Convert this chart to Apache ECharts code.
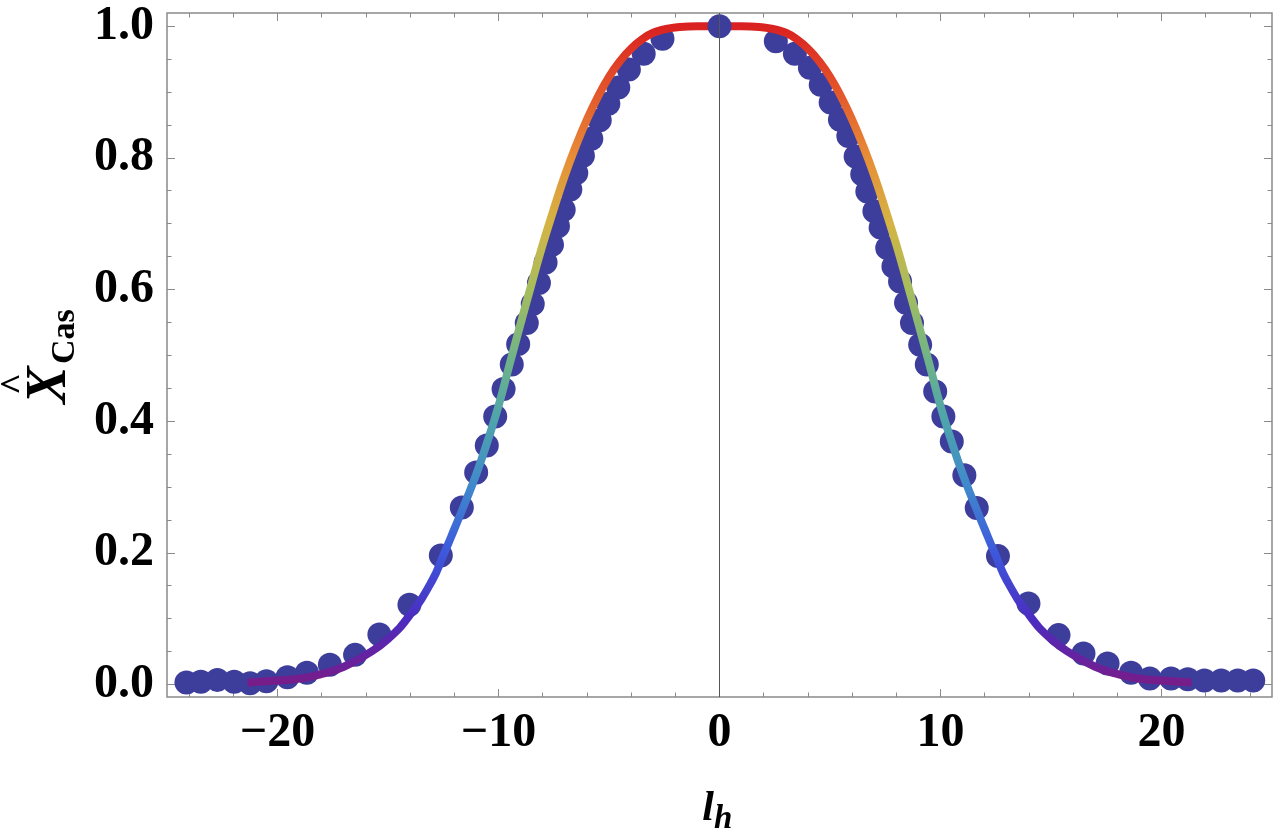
<!DOCTYPE html>
<html lang="en">
<head>
  <meta charset="utf-8"/>
  <title>X Cas vs l_h</title>
  <script src="https://cdn.jsdelivr.net/npm/echarts@6/dist/echarts.min.js"></script>
  <style>
    html, body { margin: 0; padding: 0; background: #fff; }
    #chart { width: 1275px; height: 838px; }
  </style>
</head>
<body>
<div id="chart"></div>
<script>
  // measured points (left wing, peak, right wing)
  var leftX = [-24.12, -23.47, -22.72, -21.96, -21.24, -20.50, -19.55, -18.67, -17.63, -16.49, -15.39, -14.03,
    -12.61, -11.66, -11.01, -10.53, -10.15, -9.77, -9.40, -9.11, -8.72, -8.45, -8.17, -7.87, -7.58, -7.31,
    -7.05, -6.75, -6.48, -6.18, -5.80, -5.42, -5.03, -4.58, -4.10, -3.43, -2.58];
  var leftY = [0.003, 0.004, 0.007, 0.004, 0.002, 0.005, 0.011, 0.018, 0.030, 0.045, 0.076, 0.121,
    0.196, 0.269, 0.322, 0.363, 0.407, 0.449, 0.486, 0.517, 0.549, 0.578, 0.610, 0.641, 0.668, 0.696,
    0.721, 0.752, 0.777, 0.803, 0.829, 0.857, 0.882, 0.907, 0.934, 0.958, 0.981];
  var peakX = [0];
  var peakY = [1.0];
  var rightX = [2.55, 3.41, 4.09, 4.58, 5.03, 5.45, 5.83, 6.16, 6.46, 6.69, 7.01, 7.29, 7.59, 7.87,
    8.17, 8.44, 8.71, 9.08, 9.38, 9.76, 10.13, 10.51, 11.08, 11.64, 12.60, 13.98, 15.34, 16.47, 17.56,
    18.62, 19.47, 20.43, 21.19, 21.94, 22.70, 23.45, 24.15];
  var rightY = [0.977, 0.958, 0.937, 0.911, 0.884, 0.858, 0.833, 0.802, 0.775, 0.749, 0.719, 0.694, 0.663, 0.635,
    0.612, 0.580, 0.549, 0.516, 0.486, 0.445, 0.407, 0.369, 0.318, 0.268, 0.195, 0.123, 0.075, 0.047, 0.032,
    0.018, 0.009, 0.009, 0.008, 0.006, 0.006, 0.006, 0.006];

  // fitted curve
  var fitX = [-21.36, -20, -19, -18, -17, -16, -15, -14, -13, -12.5, -12, -11.5, -11, -10.5, -10, -9.5, -9,
    -8.5, -8, -7.5, -7, -6.5, -6, -5.5, -5, -4.5, -4, -3.5, -3, -2.5, -2, -1, 0,
    1, 2, 2.5, 3, 3.5, 4, 4.5, 5, 5.5, 6, 6.5, 7, 7.5, 8, 8.5, 9, 9.5, 10, 10.5, 11, 11.5, 12, 12.5, 13,
    14, 15, 16, 17, 18, 19, 20, 21.36];
  var fitY = [0.003, 0.006, 0.009, 0.016, 0.027, 0.045, 0.069, 0.106, 0.158, 0.196, 0.236, 0.277, 0.320, 0.369,
    0.423, 0.486, 0.548, 0.609, 0.668, 0.722, 0.773, 0.818, 0.858, 0.893, 0.923, 0.947, 0.966, 0.980, 0.990,
    0.995, 0.998, 1.0, 1.0,
    1.0, 0.998, 0.995, 0.990, 0.980, 0.966, 0.947, 0.923, 0.893, 0.858, 0.818, 0.773, 0.722, 0.668, 0.609,
    0.548, 0.486, 0.423, 0.369, 0.320, 0.277, 0.236, 0.196, 0.158, 0.106, 0.069, 0.045, 0.027, 0.016, 0.009,
    0.006, 0.003];

  var xMajor = [-20, -10, 0, 10, 20];
  var xMinor = [-24, -22, -18, -16, -14, -12, -8, -6, -4, -2, 2, 4, 6, 8, 12, 14, 16, 18, 22, 24];
  var yMajor = [0, 0.2, 0.4, 0.6, 0.8, 1.0];
  var yMinor = [0.05, 0.1, 0.15, 0.25, 0.3, 0.35, 0.45, 0.5, 0.55, 0.65, 0.7, 0.75, 0.85, 0.9, 0.95];

  var rainbow = ['#781c88', '#4b2cc0', '#3d58dc', '#4088cc', '#4ea4ac', '#72b486',
    '#a6bd5e', '#d4b444', '#e78e37', '#e3572b', '#da2121'];

  function zip(xs, ys) {
    return xs.map(function (x, i) { return [x, ys[i]]; });
  }

  var font = 'Liberation Serif';
  var frameColor = '#8a8a8a';

  function xAxisDef(pos, ticks, len, labels) {
    return {
      type: 'value', min: -25, max: 25, position: pos,
      axisLine: { show: false, onZero: false },
      splitLine: { show: false },
      axisTick: { inside: true, length: len, customValues: ticks, lineStyle: { color: frameColor, width: 1 } },
      axisLabel: labels ? {
        customValues: ticks, margin: 13, color: '#000',
        fontFamily: font, fontWeight: 'bold', fontSize: 48,
        formatter: function (v) { return v < 0 ? '\u2212' + Math.abs(v) : String(v); }
      } : { show: false }
    };
  }

  function yAxisDef(pos, ticks, len, labels) {
    return {
      type: 'value', min: -0.019, max: 1.02, position: pos,
      axisLine: { show: false, onZero: false },
      splitLine: { show: false },
      axisTick: { inside: true, length: len, customValues: ticks, lineStyle: { color: frameColor, width: 1 } },
      axisLabel: labels ? {
        customValues: ticks, margin: 13, color: '#000',
        fontFamily: font, fontWeight: 'bold', fontSize: 48,
        formatter: function (v) { return v.toFixed(1); }
      } : { show: false }
    };
  }

  var chart = echarts.init(document.getElementById('chart'), null, { renderer: 'canvas' });

  var option = {
    backgroundColor: '#fff',
    animation: false,
    grid: {
      left: 167, top: 13, width: 1105, height: 684,
      show: true, borderColor: frameColor, borderWidth: 1.5, backgroundColor: 'transparent'
    },
    xAxis: [
      xAxisDef('bottom', xMajor, 8, true),
      xAxisDef('bottom', xMinor, 4.5, false),
      xAxisDef('top', xMajor, 8, false),
      xAxisDef('top', xMinor, 4.5, false)
    ],
    yAxis: [
      yAxisDef('left', yMajor, 8, true),
      yAxisDef('left', yMinor, 4.5, false),
      yAxisDef('right', yMajor, 8, false),
      yAxisDef('right', yMinor, 4.5, false)
    ],
    visualMap: {
      show: false, type: 'continuous', seriesIndex: 1, dimension: 1,
      min: 0, max: 1, inRange: { color: rainbow }
    },
    series: [
      {
        name: 'data', type: 'scatter', z: 2,
        data: zip(leftX, leftY).concat(zip(rightX, rightY)),
        symbolSize: 24,
        itemStyle: { color: '#3d3d9b', opacity: 1 }
      },
      {
        name: 'fit', type: 'line', z: 3,
        data: zip(fitX, fitY),
        smooth: 0.5, showSymbol: false,
        lineStyle: { width: 8, cap: 'butt' }
      },
      {
        name: 'peak', type: 'scatter', z: 4,
        data: zip(peakX, peakY),
        symbolSize: 24,
        itemStyle: { color: '#3d3d9b', opacity: 1 },
        markLine: {
          silent: true, symbol: 'none', label: { show: false },
          lineStyle: { color: '#555', width: 1, type: 'solid' },
          data: [{ xAxis: 0 }]
        }
      }
    ],
    graphic: [
      {
        type: 'text', x: 708, y: 809,
        style: { text: 'l', fill: '#000', font: 'italic bold 42px "Liberation Serif"', align: 'center', verticalAlign: 'middle' }
      },
      {
        type: 'text', x: 714, y: 819,
        style: { text: 'h', fill: '#000', font: 'italic bold 33px "Liberation Serif"', align: 'left', verticalAlign: 'middle' }
      },
      {
        type: 'group', x: 51, y: 385, rotation: Math.PI / 2,
        children: [
          {
            type: 'text', x: 0, y: 0,
            style: { text: 'X', fill: '#000', font: 'italic bold 56px "Liberation Serif"', align: 'center', verticalAlign: 'middle' }
          },
          {
            type: 'text', x: 1, y: -35,
            style: { text: '^', fill: '#000', font: 'bold 38px "Liberation Serif"', align: 'center', verticalAlign: 'middle' }
          },
          {
            type: 'text', x: 21, y: 14,
            style: { text: 'Cas', fill: '#000', font: 'bold 34px "Liberation Serif"', align: 'left', verticalAlign: 'middle' }
          }
        ]
      }
    ]
  };

  chart.setOption(option);
</script>
</body>
</html>
